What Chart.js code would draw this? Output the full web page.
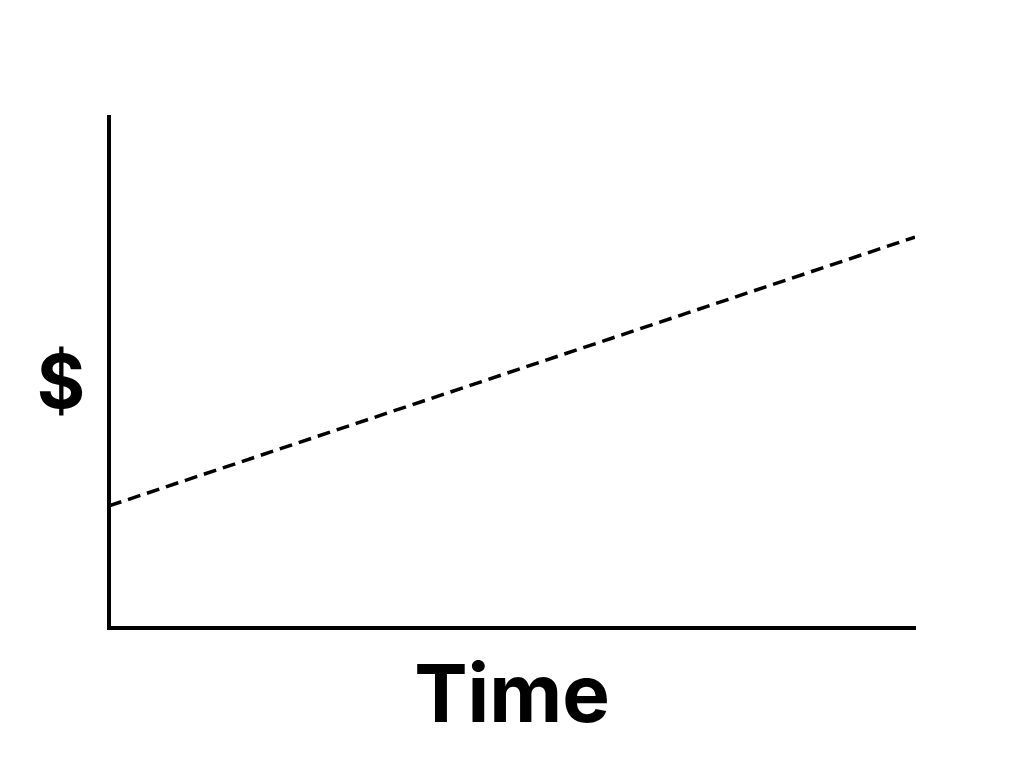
<!DOCTYPE html>
<html>
<head>
<meta charset="utf-8">
<script src="https://cdn.jsdelivr.net/npm/chart.js@4/dist/chart.umd.min.js"></script>
<style>
  html, body { margin: 0; padding: 0; background: #fff; }
  #wrap { width: 1024px; height: 768px; }
</style>
</head>
<body>
<div id="wrap"><canvas id="chart" width="1024" height="768"></canvas></div>
<script>
// Data
const timePoints = [0, 10];
const dollarValues = [23.9, 76.5];
const xLabel = 'Time';
const yLabel = '$';

// draws the two axis labels ("$" stays upright, so no rotated scale title)
const axisLabels = {
    id: 'axisLabels',
    afterDraw(chart) {
        const ctx = chart.ctx;
        const area = chart.chartArea;
        ctx.save();
        ctx.fillStyle = '#000';
        ctx.font = 'bold 80px Inter, "Open Sans", sans-serif';
        ctx.textAlign = 'center';
        ctx.textBaseline = 'alphabetic';
        ctx.fillText(xLabel, (area.left + area.right) / 2, area.bottom + 94);
        ctx.font = 'bold 74px Inter, "Open Sans", sans-serif';
        ctx.textBaseline = 'middle';
        ctx.fillText(yLabel, area.left - 48, 386);
        ctx.restore();
    }
};

function drawChart() {
    const ctx = document.getElementById('chart').getContext('2d');
    new Chart(ctx, {
        type: 'line',
        data: {
            datasets: [{
                data: timePoints.map((t, i) => ({ x: t, y: dollarValues[i] })),
                borderColor: '#000',
                borderWidth: 3.5,
                borderDash: [13, 7],
                pointRadius: 0,
                fill: false,
                tension: 0
            }]
        },
        options: {
            responsive: false,
            animation: false,
            layout: { padding: { left: 109, right: 109, top: 117, bottom: 140 } },
            scales: {
                x: {
                    type: 'linear',
                    min: 0, max: 10,
                    ticks: { display: false },
                    grid: { display: false, drawTicks: false },
                    border: { display: true, color: '#000', width: 4 }
                },
                y: {
                    min: 0, max: 100,
                    ticks: { display: false },
                    grid: { display: false, drawTicks: false },
                    border: { display: true, color: '#000', width: 4 }
                }
            },
            plugins: {
                legend: { display: false },
                tooltip: { enabled: false }
            }
        },
        plugins: [axisLabels]
    });
}

document.fonts.load('bold 80px Inter').then(drawChart, drawChart);
</script>
</body>
</html>
